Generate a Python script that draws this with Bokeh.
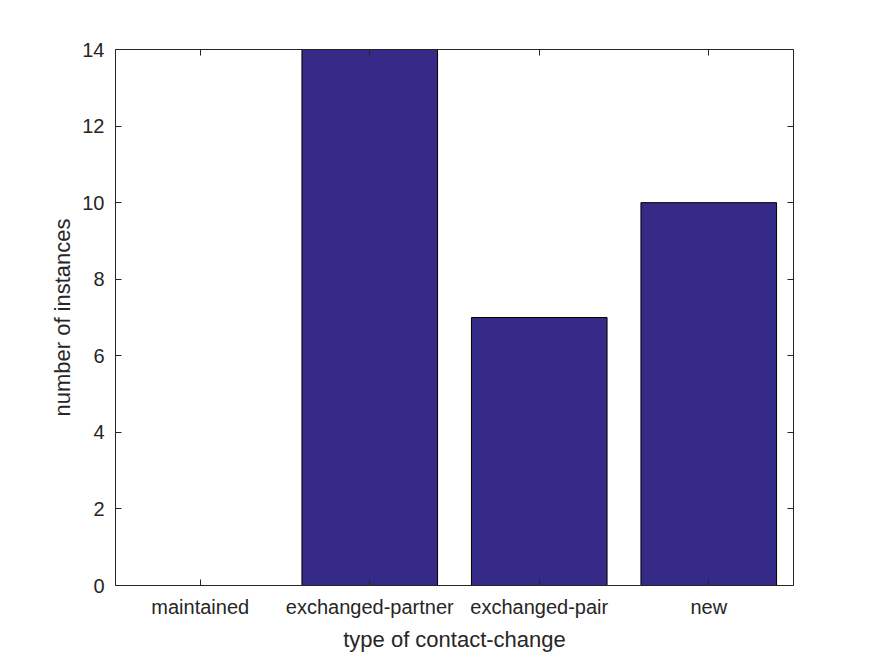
from bokeh.plotting import figure
from bokeh.models import (FactorRange, Range1d, LinearAxis, CategoricalAxis,
                          FixedTicker, CustomJSTickFormatter)
from bokeh.embed import file_html
from bokeh.resources import INLINE

categories = ["maintained", "exchanged-partner", "exchanged-pair", "new"]
counts = [0, 14, 7, 10]
y_ticks = [0, 2, 4, 6, 8, 10, 12, 14]

p = figure(width=875, height=656, output_backend="svg", toolbar_location=None,
           x_range=FactorRange(*categories, range_padding=0),
           y_range=Range1d(0, 14))
p.min_border_left = 115
p.min_border_right = 82
p.min_border_top = 49
p.min_border_bottom = 71
p.outline_line_color = None
p.grid.visible = False
p.background_fill_color = "white"
p.border_fill_color = "white"

p.vbar(x=categories, top=counts, width=0.8, fill_color="#352A87",
       line_color="black", line_width=1)

axcol = "#262626"
font = "Liberation Sans"

def style(ax):
    ax.axis_line_color = axcol
    ax.major_tick_line_color = axcol
    ax.minor_tick_line_color = None
    ax.major_tick_in = 6
    ax.major_tick_out = 0
    ax.major_label_text_color = axcol
    ax.major_label_text_font = font
    ax.major_label_text_font_size = "20px"
    ax.axis_label_text_color = axcol
    ax.axis_label_text_font = font
    ax.axis_label_text_font_size = "22px"
    ax.axis_label_text_font_style = "normal"

xa = p.xaxis[0]
style(xa)
xa.axis_label = "type of contact-change"
xa.major_label_standoff = 10
xa.axis_label_standoff = 6

ya = p.yaxis[0]
style(ya)
ya.axis_label = "number of instances"
ya.ticker = FixedTicker(ticks=y_ticks)
ya.major_label_standoff = 11
ya.axis_label_standoff = 4

# box axes (top / right) with inward ticks and no labels
blank = CustomJSTickFormatter(code="return ''")
top = CategoricalAxis(formatter=blank)
style(top)
top.major_label_standoff = 0
p.add_layout(top, "above")

right = LinearAxis(ticker=FixedTicker(ticks=y_ticks))
style(right)
right.major_label_overrides = {t: "" for t in y_ticks}
right.major_label_standoff = 0
p.add_layout(right, "right")

open("out.html", "w").write(file_html(p, INLINE))
